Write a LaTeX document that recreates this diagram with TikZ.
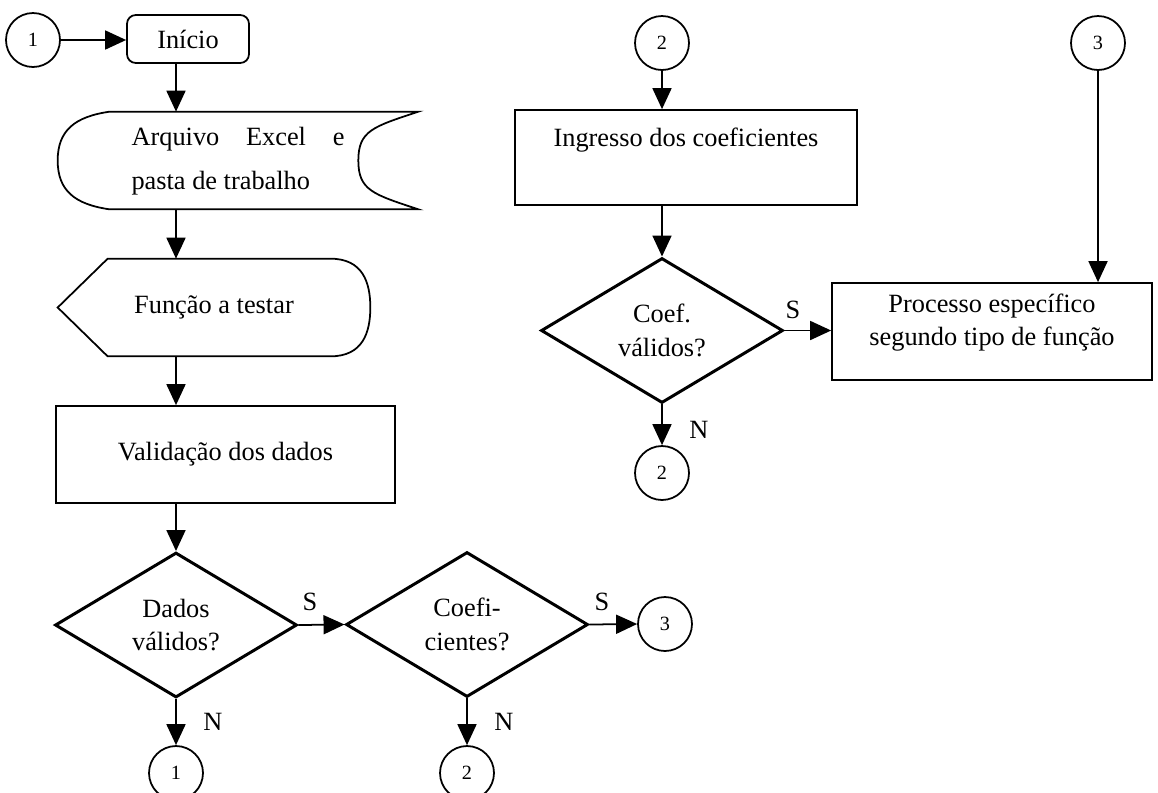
\documentclass[tikz,border=0pt]{standalone}
\usepackage{fontspec}
\setmainfont{Liberation Serif}
\usetikzlibrary{arrows.meta,shapes}

\begin{document}
\begin{tikzpicture}[x=0.02cm, y=-0.02cm]
	  \tikzstyle{every node} = [font=\fontsize{15}{19}\selectfont, inner sep=0pt]
	  \tikzstyle{conn} = [circle, draw, line width=1pt, minimum size=1.08cm, font=\fontsize{11.5}{13}\selectfont]
	  \tikzstyle{proc} = [rectangle, draw, line width=1pt]
	  \tikzstyle{decis} = [diamond, draw, line width=1.7pt, minimum width=4.84cm, minimum height=2.9cm, align=center]
	  \tikzstyle{flow} = [line width=1pt, -{Triangle[length=0.42cm, width=0.38cm]}]
	  \useasboundingbox (0,0) rectangle (1158,792);
	  \coordinate (axis) at (176,0);
	  \node[conn] (c1a) at (33,40) {1};
	  \node[proc, rounded corners=5pt, minimum width=2.44cm, minimum height=0.96cm] (inicio) at (188,39) {Início};
	  \node[minimum width=7.2cm, minimum height=1.94cm] (arq) at (238,160.5) {\begin{tabular}{@{}l@{}}\makebox[4.26cm][l]{Arquivo\hfill Excel\hfill e}\\[6pt]pasta de trabalho\end{tabular}};
	  \node[minimum width=6.24cm, minimum height=1.94cm] (func) at (214,307.5) {Função a testar};
	  \node[proc, minimum width=6.78cm, minimum height=1.94cm] (valid) at (225.5,454.5) {Validação dos dados};
	  \node[decis] (dados) at (176,625) {Dados\\válidos?};
	  \node[decis] (coefs) at (467,624.5) {Coefi-\\cientes?};
	  \node[conn] (c1b) at (176,773) {1};
	  \node[conn] (c2b) at (467,773) {2};
	  \node[conn] (c3a) at (665,624) {3};
	  \node[conn] (c2a) at (662,43) {2};
	  \node[proc, minimum width=6.84cm, text height=0.72cm, text depth=1.18cm] (ingr) at (686,157.5) {Ingresso dos coeficientes};
	  \node[decis] (coefv) at (662,330.5) {Coef.\\válidos?};
	  \node[conn] (c2c) at (662,473) {2};
	  \node[conn] (c3b) at (1098,43) {3};
	  \node[proc, minimum width=6.4cm, text height=0.58cm, text depth=1.36cm] (espec) at (992,331.5) {\begin{tabular}[t]{@{}c@{}}Processo específico\\segundo tipo de função\end{tabular}};
	  \node (s1) at (310,602) {S};
	  \node (s2) at (602,602) {S};
	  \node (s3) at (793,310) {S};
	  \node (n1) at (213,722) {N};
	  \node (n2) at (504,722) {N};
	  \node (n3) at (699,430) {N};
	  \draw[line width=1pt] ([xshift=1.04cm]arq.north west) -- (arq.north east)
	    .. controls +(-0.9cm,-0.3cm) and +(0,0.6cm) .. ([xshift=-1.2cm]arq.east)
	    .. controls +(0,-0.6cm) and +(-0.9cm,0.3cm) .. (arq.south east)
	    -- ([xshift=1.04cm]arq.south west)
	    .. controls +(-0.7cm,0.1cm) and +(0,-0.6cm) .. (arq.west)
	    .. controls +(0,0.6cm) and +(-0.7cm,-0.1cm) .. cycle;
	  \draw[line width=1pt] (func.west) -- ([xshift=1cm]func.north west) -- ([xshift=-0.8cm]func.north east)
	    .. controls +(0.65cm,0) and +(0,0.5cm) .. (func.east)
	    .. controls +(0,-0.5cm) and +(0.65cm,0) .. ([xshift=-0.8cm]func.south east)
	    -- ([xshift=1cm]func.south west) -- cycle;
	  \draw[flow] (c1a.east) -- (c1a.east -| inicio.west);
	  \draw[flow] (inicio.south -| axis) -- (arq.north -| axis);
	  \draw[flow] (arq.south -| axis) -- (func.north -| axis);
	  \draw[flow] (func.south -| axis) -- (valid.north -| axis);
	  \draw[flow] (valid.south -| axis) -- (dados.north);
	  \draw[flow] (dados.south) -- (c1b.north);
	  \draw[flow] (dados.east) -- (coefs.west);
	  \draw[flow] (coefs.east) -- (c3a.west);
	  \draw[flow] (coefs.south) -- (c2b.north);
	  \draw[flow] (c2a.south) -- (c2a.south |- ingr.north);
	  \draw[flow] (ingr.south -| coefv) -- (coefv.north);
	  \draw[flow] (coefv.east) -- (coefv.east -| espec.west);
	  \draw[flow] (coefv.south) -- (c2c.north);
	  \draw[flow] (c3b.south) -- (c3b.south |- espec.north);
	\end{tikzpicture}
\end{document}
